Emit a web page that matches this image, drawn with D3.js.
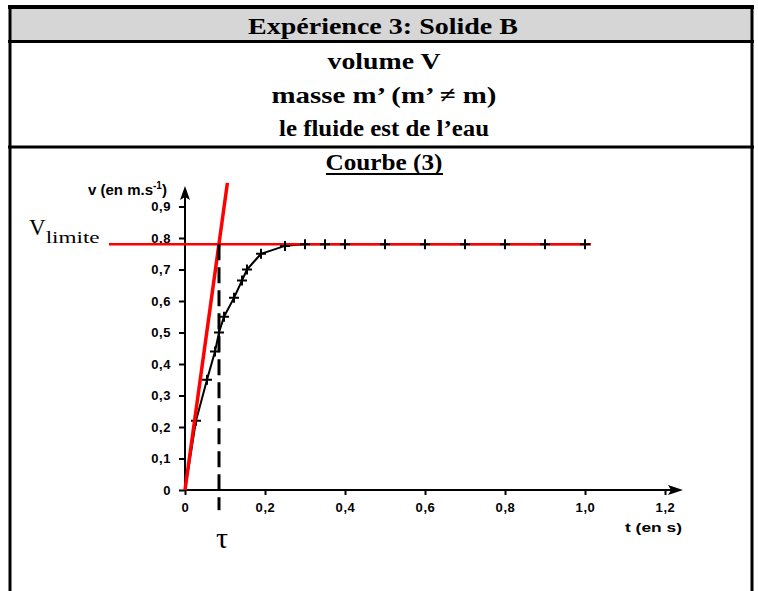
<!DOCTYPE html>
<html>
<head>
<meta charset="utf-8">
<script src="https://cdn.jsdelivr.net/npm/d3@7"></script>
<style>
  body { margin: 0; background: #fff; }
  svg { display: block; }
</style>
</head>
<body>
<div id="chart"></div>
<script>
// donnees (3)
var tVals = [0, 0.0275, 0.055, 0.075, 0.085, 0.0975, 0.1225, 0.1425, 0.155, 0.19, 0.25, 0.3, 0.35, 0.4, 0.5, 0.6, 0.7, 0.8, 0.9, 1.0];
var vVals = [0, 0.22, 0.35, 0.44, 0.50, 0.55, 0.61, 0.665, 0.70, 0.75, 0.775, 0.78, 0.78, 0.78, 0.78, 0.78, 0.78, 0.78, 0.78, 0.78];

var vLimite = 0.78;
var tau = 0.085;
var tangentT = [0, 0.106];
var tangentV = [0, 0.975];

var xTicks = [0, 0.2, 0.4, 0.6, 0.8, 1.0, 1.2];
var xTickLabels = ["0", "0,2", "0,4", "0,6", "0,8", "1,0", "1,2"];
var yTicks = [0, 0.1, 0.2, 0.3, 0.4, 0.5, 0.6, 0.7, 0.8, 0.9];
var yTickLabels = ["0", "0,1", "0,2", "0,3", "0,4", "0,5", "0,6", "0,7", "0,8", "0,9"];

var headerLines = ["volume V", "masse m\u2019 (m\u2019 \u2260 m)", "le fluide est de l\u2019eau"];

var W = 758, H = 591;

var svg = d3.select("#chart")
  .append("svg")
    .attr("width", W)
    .attr("height", H);

// tableau
svg.append("rect")
  .attr("x", 10).attr("y", 9).attr("width", 742).attr("height", 32)
  .attr("fill", "#d6d6d6");

var border = svg.append("g").attr("stroke", "#000").attr("fill", "none");
border.append("line").attr("x1", 8).attr("x2", 754).attr("y1", 7).attr("y2", 7).attr("stroke-width", 4);
border.append("line").attr("x1", 8).attr("x2", 754).attr("y1", 41.5).attr("y2", 41.5).attr("stroke-width", 3);
border.append("line").attr("x1", 8).attr("x2", 754).attr("y1", 147).attr("y2", 147).attr("stroke-width", 3);
border.append("line").attr("x1", 10).attr("x2", 10).attr("y1", 5).attr("y2", H).attr("stroke-width", 3);
border.append("line").attr("x1", 752).attr("x2", 752).attr("y1", 5).attr("y2", H).attr("stroke-width", 3);

var serif = "'Liberation Serif', 'Times New Roman', serif";
var sans = "'Liberation Sans', Arial, sans-serif";

svg.append("text")
  .attr("x", 383).attr("y", 34)
  .attr("text-anchor", "middle")
  .attr("font-family", serif).attr("font-weight", "bold").attr("font-size", 24)
  .attr("textLength", 270).attr("lengthAdjust", "spacingAndGlyphs")
  .text("Exp\u00e9rience 3: Solide B");

var lineY = [69, 103, 136];
var lineLen = [113, 225, 210];
svg.selectAll(".hdr")
  .data(headerLines)
  .enter().append("text")
    .attr("class", "hdr")
    .attr("x", 384)
    .attr("y", function(d, i) { return lineY[i]; })
    .attr("text-anchor", "middle")
    .attr("font-family", serif).attr("font-weight", "bold").attr("font-size", 24)
    .attr("textLength", function(d, i) { return lineLen[i]; })
    .attr("lengthAdjust", "spacingAndGlyphs")
    .text(function(d) { return d; });

svg.append("text")
  .attr("x", 384).attr("y", 170)
  .attr("text-anchor", "middle")
  .attr("font-family", serif).attr("font-weight", "bold").attr("font-size", 24)
  .attr("textLength", 117).attr("lengthAdjust", "spacingAndGlyphs")
  .text("Courbe (3)");
svg.append("line")
  .attr("x1", 326).attr("x2", 443).attr("y1", 174).attr("y2", 174)
  .attr("stroke", "#000").attr("stroke-width", 2);

// echelles
var x = d3.scaleLinear().domain([0, 1]).range([185, 585]);
var y = d3.scaleLinear().domain([0, 0.9]).range([490, 206.5]);

var xAxis = d3.axisBottom(x)
  .tickValues(xTicks)
  .tickFormat(function(d, i) { return xTickLabels[i]; })
  .tickSize(5).tickSizeOuter(0).tickPadding(8);
var yAxis = d3.axisLeft(y)
  .tickValues(yTicks)
  .tickFormat(function(d, i) { return yTickLabels[i]; })
  .tickSize(6).tickSizeOuter(0).tickPadding(8);

var gx = svg.append("g").attr("transform", "translate(0," + y(0) + ")").call(xAxis);
var gy = svg.append("g").attr("transform", "translate(" + x(0) + ",0)").call(yAxis);
[gx, gy].forEach(function(g) {
  g.select(".domain").remove();
  g.selectAll(".tick line").attr("stroke", "#000").attr("stroke-width", 2);
  g.selectAll(".tick text")
    .attr("font-family", sans).attr("font-weight", "bold").attr("font-size", 13)
    .attr("letter-spacing", 0.6)
    .attr("fill", "#000");
});

// axes avec fleches
svg.append("line")
  .attr("x1", x(0)).attr("x2", x(1.225)).attr("y1", y(0)).attr("y2", y(0))
  .attr("stroke", "#000").attr("stroke-width", 2);
svg.append("path")
  .attr("d", "M" + x(1.245) + "," + y(0) + " l-15,-5 l3,5 l-3,5 Z")
  .attr("fill", "#000");
svg.append("line")
  .attr("x1", x(0)).attr("x2", x(0)).attr("y1", y(0) + 1).attr("y2", y(0.93))
  .attr("stroke", "#000").attr("stroke-width", 2);
svg.append("path")
  .attr("d", "M" + x(0) + "," + y(0.965) + " l-5,14 l5,-3 l5,3 Z")
  .attr("fill", "#000");

// titres des axes
var vLab = svg.append("text")
  .attr("x", 88).attr("y", 195)
  .attr("font-family", sans).attr("font-weight", "bold").attr("font-size", 15)
  .attr("fill", "#000");
vLab.append("tspan").text("v (en m.s");
vLab.append("tspan").attr("dy", -6).attr("font-size", 10).text("-1");
vLab.append("tspan").attr("dy", 6).text(")");

svg.append("text")
  .attr("x", 682).attr("y", 532)
  .attr("text-anchor", "end")
  .attr("font-family", sans).attr("font-weight", "bold").attr("font-size", 13)
  .attr("textLength", 57).attr("lengthAdjust", "spacingAndGlyphs")
  .text("t (en s)");

// courbe experimentale
var pts = tVals.map(function(t, i) { return {t: t, v: vVals[i]}; });

svg.append("path")
  .datum(pts)
  .attr("fill", "none")
  .attr("stroke", "#000")
  .attr("stroke-width", 2)
  .attr("d", d3.line()
    .x(function(d) { return x(d.t); })
    .y(function(d) { return y(d.v); }));

// asymptote v limite
svg.append("line")
  .attr("x1", x(-0.19)).attr("x2", x(1.015))
  .attr("y1", y(vLimite)).attr("y2", y(vLimite))
  .attr("stroke", "#ff0000").attr("stroke-width", 2.5);

// marqueurs +
svg.selectAll(".mk")
  .data(pts.slice(1))
  .enter().append("path")
    .attr("class", "mk")
    .attr("transform", function(d) { return "translate(" + x(d.t) + "," + y(d.v) + ")"; })
    .attr("d", "M-5,0H5M0,-5V5")
    .attr("stroke", "#000")
    .attr("stroke-width", 2);

// tangente a l'origine
svg.append("line")
  .attr("x1", x(tangentT[0])).attr("y1", y(tangentV[0]))
  .attr("x2", x(tangentT[1])).attr("y2", y(tangentV[1]))
  .attr("stroke", "#ff0000").attr("stroke-width", 3.5);

// tau
svg.append("line")
  .attr("x1", x(tau)).attr("x2", x(tau))
  .attr("y1", y(vLimite)).attr("y2", y(-0.064))
  .attr("stroke", "#000").attr("stroke-width", 3)
  .attr("stroke-dasharray", "16,7");

svg.append("text")
  .attr("x", x(tau) + 3).attr("y", 548)
  .attr("text-anchor", "middle")
  .attr("font-family", serif).attr("font-size", 30)
  .text("\u03c4");

var vl = svg.append("text")
  .attr("x", 29).attr("y", 235)
  .attr("font-family", serif).attr("font-size", 23);
vl.append("tspan").text("V");
vl.append("tspan").attr("dy", 8).attr("font-size", 17)
  .attr("textLength", 54).attr("lengthAdjust", "spacingAndGlyphs")
  .text("limite");
</script>
</body>
</html>
